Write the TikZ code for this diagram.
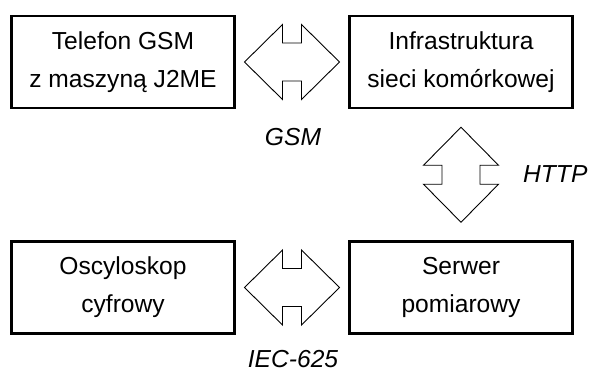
\documentclass[tikz,border=0pt]{standalone}
\usepackage{fontspec}
\setmainfont{Liberation Sans}
\usetikzlibrary{calc}

\tikzset{
  block/.style={draw, line width=2.6pt, minimum width=223pt, minimum height=92pt,
    align=center, inner sep=0pt, font=\fontsize{24.6}{38}\selectfont},
  proto/.style={font=\fontsize{24.6}{28}\selectfont\itshape, inner sep=0pt},
  arrowline/.style={draw, line width=0.9pt, line join=miter},
  dblarrow/.pic={
    \path[arrowline] (-47.5,0) -- (-9.5,-37.5) -- (-9.5,-19) -- (9.5,-19) -- (9.5,-37.5)
      -- (47.5,0) -- (9.5,37.5) -- (9.5,19) -- (-9.5,19) -- (-9.5,37.5) -- cycle;
  }
}

\begin{document}
\begin{tikzpicture}[x=1pt, y=-1pt]
  \useasboundingbox (0,0) rectangle (590,373);

  % the four blocks
  \node[block] (tel) at (123,62) {Telefon GSM\\z maszyną J2ME};
  \node[block] (inf) at (461,62) {Infrastruktura\\sieci komórkowej};
  \node[block] (osc) at (123,287.5) {Oscyloskop\\cyfrowy};
  \node[block] (srv) at (461,287.5) {Serwer\\pomiarowy};

  % two-way links between the blocks
  \pic at ($(tel)!0.5!(inf)$) {dblarrow};
  \pic[rotate=90] at ($(inf)!0.5!(srv)$) {dblarrow};
  \pic at ($(osc)!0.5!(srv)$) {dblarrow};

  % protocol names
  \node[proto, anchor=base] (gsm) at (293,145) {GSM};
  \node[proto, anchor=base west] (http) at (523,182) {HTTP};
  \node[proto, anchor=base] (iec) at (293,367) {IEC-625};
\end{tikzpicture}
\end{document}
